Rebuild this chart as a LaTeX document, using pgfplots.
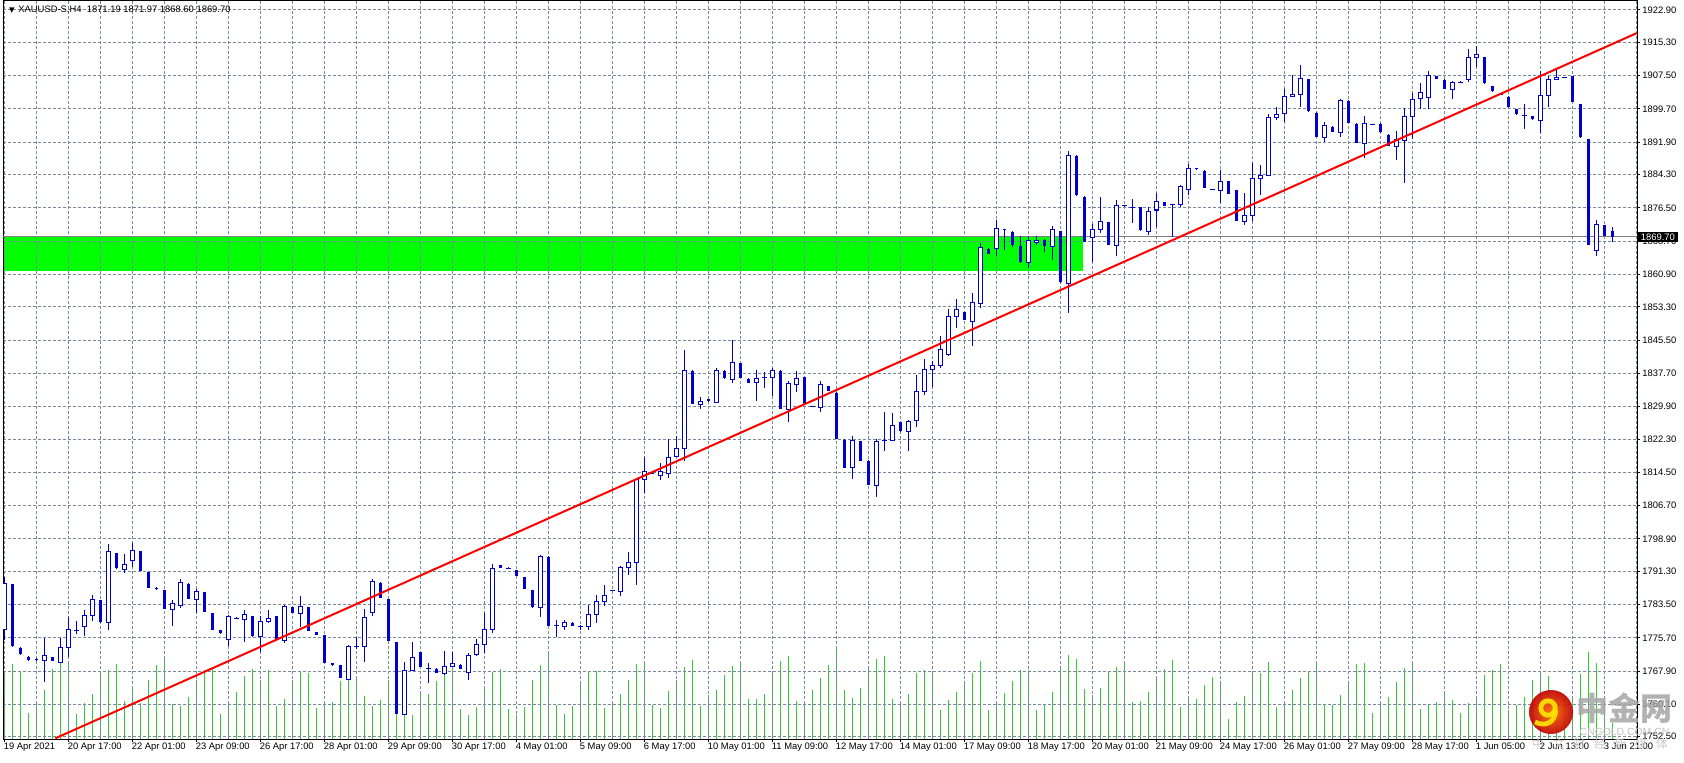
\documentclass[border=0pt]{standalone}
\usepackage{pgfplots}
\usepackage{pgfplotstable}
\pgfplotsset{compat=1.18}
\usepackage{fontspec}
\setmainfont{Liberation Sans}
\newfontfamily\cjk{Noto Sans CJK SC}
\newfontfamily\dejavu{DejaVu Sans}
\definecolor{candle}{RGB}{0,0,205}
\definecolor{volgreen}{RGB}{50,205,50}
\definecolor{zonegreen}{RGB}{0,255,0}
\definecolor{gridgray}{RGB}{119,136,153}
\definecolor{pricegray}{RGB}{128,128,128}
\definecolor{wmgray}{RGB}{165,165,165}
\newcommand{\ticksize}{\fontsize{4.7}{5.6}\selectfont}

% H4 bars: index, open, high, low, close, tick volume (px)
\pgfplotstableread{
i o h l c v
0 1777.6 1790.0 1775.1 1788.4 67
1 1788.2 1788.4 1773.6 1773.8 75
2 1773.4 1773.6 1771.6 1771.8 67
3 1771.3 1771.4 1770.3 1770.4 26
4 1770.8 1770.9 1770.3 1770.4 35
5 1770.4 1775.6 1765.4 1771.5 49
6 1771.1 1771.2 1770.2 1770.3 70
7 1770.0 1775.6 1769.7 1773.4 77
8 1773.4 1780.6 1771.2 1777.6 77
9 1777.5 1779.7 1776.7 1777.5 25
10 1778.3 1782.3 1776.1 1780.9 36
11 1780.9 1785.7 1779.7 1784.7 45
12 1784.5 1784.6 1779.2 1779.3 65
13 1779.2 1797.6 1777.5 1796.0 69
14 1795.5 1795.6 1791.9 1792.0 75
15 1791.8 1795.3 1790.9 1792.9 38
16 1793.8 1798.0 1792.2 1796.1 52
17 1796.0 1796.1 1791.3 1791.4 36
18 1791.1 1791.2 1787.3 1787.4 59
19 1787.3 1787.6 1786.9 1787.2 74
20 1786.9 1787.0 1782.4 1782.5 82
21 1782.3 1784.5 1778.5 1783.7 35
22 1783.3 1789.6 1782.8 1788.6 33
23 1788.4 1788.5 1784.7 1784.8 42
24 1784.7 1787.2 1781.5 1786.5 59
25 1786.4 1786.5 1781.7 1781.8 69
26 1781.4 1781.5 1777.5 1777.6 70
27 1777.5 1777.6 1776.7 1776.8 25
28 1775.3 1781.0 1773.8 1780.7 36
29 1780.3 1780.5 1780.1 1780.3 47
30 1779.9 1782.2 1774.7 1781.1 63
31 1780.8 1780.9 1776.0 1776.1 70
32 1776.1 1780.8 1772.4 1779.5 59
33 1779.5 1782.3 1779.2 1780.2 69
34 1780.8 1780.9 1775.1 1775.2 33
35 1775.0 1783.3 1774.5 1783.0 40
36 1782.9 1783.0 1781.4 1781.5 59
37 1781.3 1785.4 1778.2 1783.0 68
38 1782.9 1783.0 1777.2 1777.3 66
39 1777.0 1777.1 1776.3 1776.4 31
40 1776.3 1776.4 1769.7 1769.8 35
41 1769.8 1769.9 1769.2 1769.3 37
42 1769.3 1769.4 1766.2 1766.3 58
43 1766.0 1774.0 1765.9 1773.7 60
44 1773.7 1775.8 1773.0 1773.7 60
45 1773.6 1782.5 1770.0 1780.4 43
46 1781.6 1789.6 1780.8 1788.8 33
47 1788.6 1788.7 1785.0 1785.1 39
48 1784.7 1784.8 1774.9 1775.0 59
49 1774.6 1774.7 1757.8 1757.9 71
50 1757.7 1770.0 1757.6 1768.0 65
51 1768.0 1774.8 1767.9 1771.1 24
52 1772.3 1772.4 1768.8 1768.9 46
53 1768.6 1769.8 1765.1 1768.6 45
54 1768.5 1768.6 1767.4 1767.5 58
55 1767.3 1772.5 1767.0 1768.9 67
56 1768.9 1772.4 1768.8 1769.7 70
57 1769.4 1769.5 1768.4 1768.5 30
58 1767.5 1772.1 1765.8 1771.6 24
59 1771.8 1775.5 1771.5 1774.2 32
60 1774.1 1781.4 1772.2 1777.6 53
61 1777.6 1792.9 1776.8 1791.9 67
62 1792.7 1792.8 1792.0 1792.1 70
63 1792.0 1792.2 1791.8 1792.0 30
64 1791.5 1791.6 1790.1 1790.2 24
65 1789.9 1790.0 1787.1 1787.2 32
66 1786.9 1787.0 1782.8 1782.9 59
67 1782.7 1795.1 1780.6 1794.7 74
68 1794.7 1794.8 1778.4 1778.5 88
69 1778.5 1779.8 1775.9 1778.5 34
70 1778.3 1779.9 1777.5 1779.4 25
71 1779.2 1779.3 1778.4 1778.5 33
72 1778.3 1778.7 1777.5 1778.3 58
73 1778.3 1783.4 1777.5 1781.2 68
74 1781.2 1785.7 1779.2 1784.2 68
75 1784.2 1788.1 1783.2 1785.6 31
76 1786.8 1786.9 1786.7 1786.8 35
77 1786.5 1792.5 1785.6 1792.2 45
78 1792.2 1795.7 1790.4 1793.4 59
79 1793.3 1812.9 1788.1 1812.9 75
80 1812.9 1818.1 1809.7 1814.7 76
81 1814.5 1814.6 1814.1 1814.2 34
82 1813.8 1816.6 1812.7 1814.7 31
83 1814.3 1822.3 1813.2 1818.0 48
84 1818.2 1823.0 1818.0 1820.1 59
85 1820.1 1843.2 1817.2 1838.4 72
86 1838.3 1838.4 1830.5 1830.6 79
87 1830.4 1832.1 1829.4 1831.0 33
88 1831.6 1831.7 1831.0 1831.1 44
89 1830.8 1839.0 1830.7 1838.4 49
90 1838.3 1838.4 1836.4 1836.5 64
91 1836.2 1845.5 1835.4 1840.3 73
92 1840.1 1840.2 1836.6 1836.7 77
93 1836.4 1836.5 1835.4 1835.5 40
94 1835.6 1838.5 1831.1 1836.5 40
95 1836.7 1838.1 1834.3 1836.7 45
96 1836.8 1838.9 1832.5 1838.4 67
97 1838.3 1838.4 1829.3 1829.4 78
98 1829.2 1835.9 1826.4 1835.4 83
99 1835.1 1838.3 1833.3 1836.5 38
100 1836.8 1836.9 1830.3 1830.4 35
101 1830.0 1830.1 1829.9 1830.0 49
102 1829.7 1835.8 1828.6 1835.1 61
103 1834.7 1834.8 1833.5 1833.6 74
104 1833.2 1833.3 1822.3 1822.4 92
105 1822.1 1822.2 1815.5 1815.6 49
106 1815.7 1823.0 1813.0 1822.0 41
107 1821.8 1821.9 1817.1 1817.2 51
108 1817.2 1817.3 1811.5 1811.6 71
109 1811.4 1822.2 1808.6 1821.8 80
110 1821.9 1828.6 1819.6 1821.9 83
111 1822.0 1828.3 1821.8 1825.5 40
112 1826.2 1826.3 1824.0 1824.1 35
113 1824.0 1826.8 1819.6 1826.5 45
114 1826.7 1837.3 1825.2 1833.5 66
115 1833.5 1841.0 1832.7 1838.6 69
116 1838.6 1840.6 1834.4 1839.6 66
117 1839.6 1846.5 1839.0 1843.3 29
118 1842.1 1852.7 1841.8 1851.1 39
119 1851.1 1855.1 1848.4 1852.6 47
120 1852.1 1852.2 1850.1 1850.2 58
121 1849.9 1856.5 1844.0 1854.4 66
122 1854.1 1868.2 1853.0 1867.3 78
123 1866.9 1867.0 1865.6 1865.7 29
124 1867.0 1873.7 1865.1 1871.7 35
125 1871.5 1871.6 1866.6 1871.2 46
126 1870.9 1871.0 1867.4 1867.8 58
127 1867.6 1869.9 1863.6 1863.7 69
128 1863.7 1869.9 1862.4 1868.9 69
129 1868.4 1869.9 1867.8 1868.9 29
130 1869.0 1869.1 1866.2 1867.6 34
131 1867.4 1872.2 1864.3 1871.5 47
132 1871.0 1871.1 1858.9 1859.0 72
133 1858.7 1889.8 1851.9 1888.8 84
134 1888.7 1888.8 1879.3 1879.4 80
135 1879.1 1879.2 1868.5 1868.6 50
136 1869.5 1872.6 1863.7 1871.5 44
137 1871.5 1879.1 1870.7 1873.3 51
138 1873.1 1873.2 1867.8 1867.9 67
139 1867.7 1878.4 1865.1 1877.1 72
140 1877.0 1877.2 1876.8 1877.0 77
141 1876.6 1878.5 1873.0 1876.6 37
142 1876.6 1876.7 1871.1 1871.2 38
143 1871.0 1876.8 1870.2 1875.6 47
144 1876.0 1879.9 1872.1 1878.0 60
145 1877.8 1877.9 1876.9 1877.0 70
146 1877.3 1877.4 1869.6 1877.3 79
147 1877.3 1881.9 1876.8 1881.6 32
148 1880.9 1886.8 1879.5 1885.8 41
149 1885.8 1885.9 1885.4 1885.5 40
150 1885.2 1885.3 1881.1 1881.2 54
151 1880.9 1881.0 1880.8 1880.9 62
152 1880.6 1885.4 1877.7 1882.7 58
153 1882.8 1882.9 1879.7 1879.8 20
154 1880.7 1880.8 1873.4 1873.5 37
155 1873.3 1879.9 1872.5 1874.8 43
156 1874.8 1886.9 1873.5 1883.4 65
157 1883.4 1886.6 1879.5 1884.2 66
158 1884.1 1898.4 1884.0 1897.7 77
159 1897.7 1900.1 1897.0 1898.4 32
160 1898.7 1904.4 1896.7 1902.7 37
161 1902.7 1907.7 1902.6 1903.1 49
162 1903.1 1910.0 1900.2 1906.9 61
163 1906.7 1906.8 1899.0 1899.1 67
164 1898.8 1898.9 1893.1 1893.2 77
165 1893.1 1896.6 1892.0 1895.9 34
166 1895.5 1895.6 1894.3 1894.4 34
167 1894.2 1902.0 1893.1 1901.6 44
168 1901.6 1901.7 1896.4 1896.5 58
169 1896.2 1896.3 1891.7 1891.8 75
170 1891.6 1898.1 1888.1 1896.3 76
171 1896.1 1896.2 1896.0 1896.1 26
172 1896.2 1896.3 1894.1 1894.2 35
173 1893.6 1893.7 1891.0 1891.1 42
174 1890.9 1894.5 1887.7 1892.6 57
175 1892.3 1899.9 1882.3 1897.9 71
176 1897.9 1903.4 1892.6 1902.0 76
177 1902.2 1905.7 1899.6 1903.6 30
178 1902.4 1908.6 1899.6 1907.6 34
179 1907.4 1907.5 1906.7 1906.8 37
180 1906.5 1906.6 1904.3 1904.4 47
181 1904.3 1906.3 1902.0 1906.0 39
182 1906.0 1906.2 1905.8 1906.0 26
183 1906.6 1913.7 1906.0 1911.8 36
184 1911.8 1914.5 1909.6 1912.4 42
185 1911.8 1911.9 1905.6 1905.7 64
186 1905.0 1905.1 1903.7 1903.8 69
187 1903.1 1903.2 1903.0 1903.1 75
188 1902.6 1902.7 1900.0 1900.1 29
189 1899.6 1899.7 1898.3 1898.4 34
190 1898.2 1900.8 1894.9 1898.2 42
191 1898.0 1898.1 1897.2 1897.3 59
192 1897.0 1908.6 1894.1 1902.9 66
193 1902.9 1907.4 1900.2 1906.6 63
194 1906.6 1908.8 1906.6 1907.1 45
195 1907.0 1907.2 1906.9 1907.0 40
196 1907.3 1907.4 1901.3 1901.4 42
197 1900.8 1900.9 1892.9 1893.0 65
198 1892.6 1892.7 1867.8 1867.9 87
199 1866.6 1873.7 1865.3 1872.6 76
200 1872.4 1872.5 1869.9 1870.0 34
201 1871.19 1871.97 1868.60 1869.70 16
}\candles

\pgfplotsset{
  chartbox/.style={
    scale only axis, width=817pt, height=369pt,
    xmin=-0.1875, xmax=204.06, ymin=1751.97, ymax=1925.0,
  },
  stick/.style={only marks, mark=*, mark size=0pt, mark options={draw=none, fill=none},
    error bars/y dir=minus, error bars/y explicit, error bars/error mark=none,
    error bars/error bar style={#1}},
}

\begin{document}
\begin{tikzpicture}
\useasboundingbox (-1.5pt,-11.5pt) rectangle (840.5pt,369.5pt);

% support zone
\begin{axis}[chartbox, hide axis]
\addplot[fill=zonegreen, draw=none] coordinates {(-1,1861.8) (134.8,1861.8) (134.8,1869.9) (-1,1869.9)};
\end{axis}

% tick volumes
\begin{axis}[chartbox, ymin=0, ymax=738, hide axis]
\addplot[ycomb, draw=volgreen, line width=0.5pt, mark=none] table[x=i, y=v] {\candles};
\end{axis}

\begin{axis}[chartbox,
  clip mode=individual,
  axis line style={black, line width=0.5pt},
  xtick pos=left, ytick pos=right,
  xticklabel pos=left, yticklabel pos=right,
  tick align=outside, major tick length=1.5pt, minor tick length=0pt,
  tick style={black, line width=0.5pt},
  xtick={0,8,...,200},
  xticklabels={19 Apr 2021,20 Apr 17:00,22 Apr 01:00,23 Apr 09:00,26 Apr 17:00,28 Apr 01:00,29 Apr 09:00,30 Apr 17:00,4 May 01:00,5 May 09:00,6 May 17:00,10 May 01:00,11 May 09:00,12 May 17:00,14 May 01:00,17 May 09:00,18 May 17:00,20 May 01:00,21 May 09:00,24 May 17:00,26 May 01:00,27 May 09:00,28 May 17:00,1 Jun 05:00,2 Jun 13:00,3 Jun 21:00},
  minor xtick={4,12,...,204},
  ytick={1922.9,1915.3,1907.5,1899.7,1891.9,1884.3,1876.5,1868.7,1860.9,1853.3,1845.5,1837.7,1829.9,1822.3,1814.5,1806.7,1798.9,1791.3,1783.5,1775.7,1767.9,1760.1,1752.5},
  yticklabel={\pgfmathprintnumber[fixed, fixed zerofill, precision=2, 1000 sep={}]{\tick}},
  /pgf/number format/assume math mode=true,
  xmajorgrids, xminorgrids, ymajorgrids,
  major grid style={gridgray, line width=0.5pt, dash pattern=on 1.5pt off 1pt},
  minor grid style={gridgray, line width=0.5pt, dash pattern=on 1.5pt off 1pt},
  tick label style={font=\ticksize, text=black},
  xticklabel style={anchor=north west, inner sep=0pt, xshift=-0.5pt, yshift=-0.5pt},
  yticklabel style={anchor=west, inner sep=0pt, xshift=1pt},
]
% current price line
\addplot[pricegray, line width=0.5pt, mark=none] coordinates {(-1,1869.7) (205,1869.7)};
% wicks
\addplot[stick={candle, line width=0.5pt}]
  table[x=i, y=h, y error minus expr=\thisrow{h}-\thisrow{l}] {\candles};
% bullish bodies: outline then white inside
\addplot[stick={candle, line width=2.25pt}]
  table[x=i, y expr={\thisrow{c}>=\thisrow{o} ? \thisrow{c}+0.12 : nan},
        y error minus expr=\thisrow{c}-\thisrow{o}+0.24] {\candles};
\addplot[stick={white, line width=1.25pt}]
  table[x=i, y expr={\thisrow{c}-\thisrow{o}>0.3 ? \thisrow{c}-0.12 : nan},
        y error minus expr=\thisrow{c}-\thisrow{o}-0.24] {\candles};
% bearish bodies
\addplot[stick={candle, line width=1.9pt}]
  table[x=i, y expr={\thisrow{c}<\thisrow{o} ? \thisrow{o} : nan},
        y error minus expr=\thisrow{o}-\thisrow{c}] {\candles};
% trend line
\addplot[red, line width=1pt, mark=none] coordinates {(6.36,1752.14) (204.06,1917.5)};
% price tag
\node[fill=black, text=white, anchor=west, inner xsep=1.75pt, inner ysep=0pt,
  minimum height=5.2pt, font=\ticksize] at (axis cs:204.06,1869.7) {1869.70};
\end{axis}

% header
\node[inner sep=0pt, font=\dejavu\fontsize{3.6}{4}\selectfont] at (4.4pt,364.3pt) {▼};
\node[anchor=west, inner sep=0pt, font=\ticksize] at (7.5pt,364.5pt)
  {XAUUSD-S,H4\hspace{1.3pt} 1871.19 1871.97 1868.60 1869.70};

% watermark
\begin{scope}[opacity=0.92]
\shade[inner color=orange!85!red, outer color=red!75!black] (774pt,13.5pt) circle (11pt);
\draw[yellow!85!orange, line width=2.4pt] (772.5pt,15.5pt) circle (3.6pt);
\draw[yellow!85!orange, line width=2.4pt] (776.4pt,14.5pt) .. controls (776pt,8pt) and (771pt,6pt) .. (766pt,8.5pt);
\end{scope}
\node[text=wmgray, opacity=0.85, inner sep=0pt, font=\cjk\bfseries\fontsize{16}{16}\selectfont] at (810.75pt,15.5pt) {中金网};
\node[text=wmgray!70, inner sep=0pt, font=\fontsize{5.2}{5.2}\selectfont] at (810.75pt,3.5pt) {CNGOLD.COM.CN};
\node[text=wmgray!60, inner sep=0pt, font=\cjk\fontsize{6}{6}\selectfont] at (798.5pt,-2.5pt)
  {中\hspace{4.3pt}文\hspace{4.3pt}财\hspace{4.3pt}经\hspace{4.3pt}新\hspace{4.3pt}媒\hspace{4.3pt}体};
\end{tikzpicture}
\end{document}
